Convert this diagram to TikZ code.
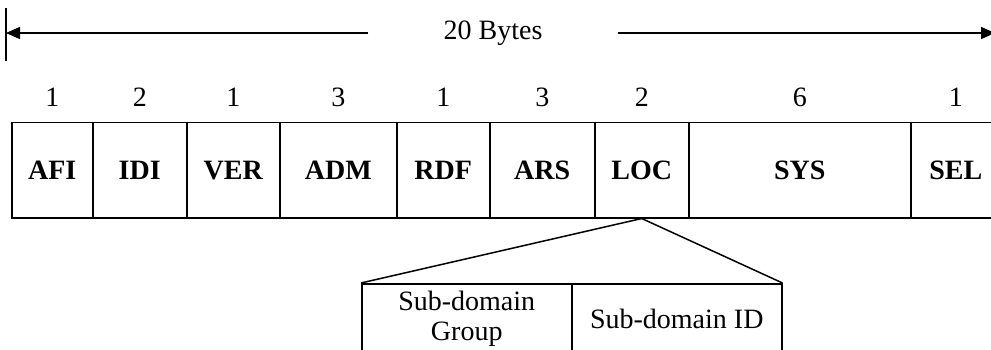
\documentclass[tikz,border=0pt]{standalone}
\usepackage{fontspec}
\setmainfont{Liberation Serif}
\usetikzlibrary{arrows.meta}

\begin{document}
\begin{tikzpicture}[x=1pt,y=-1pt,line width=1.5pt,
    feld/.style={draw, inner sep=0pt, minimum height=95pt, anchor=north west,
      font=\fontsize{28}{30}\selectfont\bfseries},
    zahl/.style={font=\fontsize{28}{30}\selectfont},
    unterfeld/.style={draw, inner sep=0pt, minimum height=70pt, minimum width=210pt,
      anchor=north west, align=center, font=\fontsize{28}{30}\selectfont},
    pfeil/.style={-{Triangle[length=14pt,width=12pt]}}]

  \useasboundingbox (0,0) rectangle (991,350);
  \clip (0,0) rectangle (991,350);

  % Gesamtlaenge
  \coordinate (balkenOben) at (6,8);
  \coordinate (balkenUnten) at (6,61);
  \coordinate (linksEnde) at (6,33);
  \coordinate (rechtsEnde) at (995,33);
  \draw (balkenOben) -- (balkenUnten);
  \node[zahl, minimum width=248pt, inner sep=0pt] (gesamt) at (493,33) {20 Bytes};
  \draw[pfeil] (gesamt.west) -- (linksEnde);
  \draw[pfeil] (gesamt.east) -- (rechtsEnde);

  % Felder mit Laenge in Bytes
  \foreach \name/\l/\r/\n in {AFI/11/92/1, IDI/92/186/2, VER/186/279/1, ADM/279/396/3,
      RDF/396/489/1, ARS/489/594/3, LOC/594/688/2, SYS/688/910/6, SEL/910/1000/1} {
    \pgfmathsetmacro\breite{\r-\l}
    \node[feld, minimum width=\breite pt] (\name) at (\l,122) {\name};
    \node[zahl] (n\name) at ([yshift=25pt]\name.north) {\n};
  }

  % Aufteilung LOC
  \node[unterfeld] (gruppe) at (361,283) {Sub-domain\\Group};
  \node[unterfeld] (kennung) at (571,283) {Sub-domain ID};
  \draw (LOC.south) -- (gruppe.north west);
  \draw (LOC.south) -- (kennung.north east);

\end{tikzpicture}
\end{document}
